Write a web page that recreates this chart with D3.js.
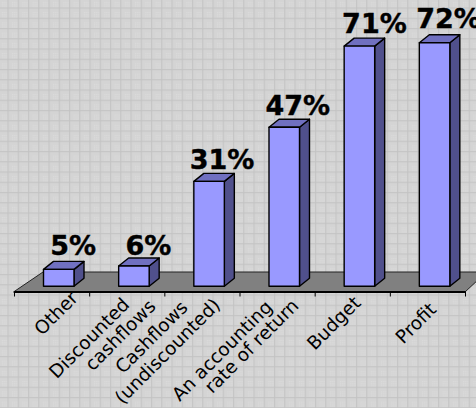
<!DOCTYPE html>
<html>
<head>
<meta charset="utf-8">
<script src="https://cdn.jsdelivr.net/npm/d3@7/dist/d3.min.js"></script>
<style>
html,body{margin:0;padding:0;background:#d6d6d6;overflow:hidden}
svg{display:block}
text{font-family:"DejaVu Sans",Verdana,sans-serif;fill:#000}
</style>
</head>
<body>
<svg id="chart" width="476" height="408"></svg>
<script>
const categories = ["Other", "Discounted cashflows", "Cashflows (undiscounted)", "An accounting rate of return", "Budget", "Profit"];
const categoryLines = [["Other"], ["Discounted", "cashflows"], ["Cashflows", "(undiscounted)"], ["An accounting", "rate of return"], ["Budget"], ["Profit"]];
const percentages = [5, 6, 31, 47, 71, 72];

const W = 476, H = 408;
const floorFrontY = 292, barBaseY = 286.3;
const barWidth = 30.5, barInset = 29.5;
const depthX = 10, depthY = 8;

const x = d3.scaleBand().domain(categories).range([14, 465]);
const y = d3.scaleLinear().domain([0, 72]).range([barBaseY, 42.7]);
const tickPos = d3.scaleLinear().domain([0, categories.length]).range([14, 465]);

// Per-line centres of the slanted axis captions, relative to the band start and axis
const captionOffsets = [
  [[42, 21]],
  [[0, 46], [31, 43]],
  [[-13, 45], [3, 59]],
  [[-17.5, 58.5], [12, 54]],
  [[19, 31]],
  [[26, 31]]
];
const valueDx = [14.5, 14.5, 13, 13.5, 15, 14];
const valueDy = [-14, -11, -12, -12, -13, -14.7];

const svg = d3.select("#chart");
const defs = svg.append("defs");

// Woven grey backdrop: a fine grid of soft lines with pale dots inside each cell
const cell = 10.25;
const tile = defs.append("pattern").attr("id", "weave")
  .attr("width", cell).attr("height", cell).attr("patternUnits", "userSpaceOnUse");
tile.append("rect").attr("width", cell).attr("height", cell).attr("fill", "#d4d4d4");
[2, 4, 6].forEach(i => [2, 4, 6].forEach(j => {
  tile.append("rect").attr("x", i).attr("y", j).attr("width", 1).attr("height", 1).attr("fill", "#dedede");
}));
tile.append("rect").attr("x", 7.6).attr("y", 0).attr("width", 1).attr("height", cell).attr("fill", "#c3c3c3");
tile.append("rect").attr("x", 0).attr("y", 7.6).attr("width", cell).attr("height", 1).attr("fill", "#c3c3c3");
svg.append("rect").attr("width", W).attr("height", H).attr("fill", "url(#weave)");

// Chart floor
const line = d3.line();
svg.append("path")
  .attr("d", line([[13.5, floorFrontY], [43, 272], [480, 272], [480, 278], [465, floorFrontY]]) + "Z")
  .attr("fill", "#808080").attr("stroke", "#222").attr("stroke-width", 1);

// Front edge of the floor with its tick marks
const axis = d3.axisBottom(tickPos).tickValues(d3.range(categories.length + 1)).tickFormat("").tickSize(5).tickSizeOuter(0);
const axisG = svg.append("g").attr("transform", `translate(0,${floorFrontY - 0.5})`).call(axis);
axisG.selectAll("path,line").attr("stroke", "#000").attr("stroke-width", 1);
axisG.select(".domain").attr("stroke-width", 2);

// 3D columns: side, top, front
const bars = svg.append("g").selectAll("g").data(percentages).join("g");
const left = (d, i) => x(categories[i]) + barInset;
const outline = s => s.attr("stroke", "#000").attr("stroke-width", 1.4).attr("stroke-linejoin", "round");

bars.append("path").attr("fill", "#50508c").call(outline)
  .attr("d", (d, i) => {
    const r = left(d, i) + barWidth, t = y(d);
    return line([[r, t], [r + depthX, t - depthY], [r + depthX, barBaseY - depthY], [r, barBaseY]]) + "Z";
  });
bars.append("path").attr("fill", "#7070c0").call(outline)
  .attr("d", (d, i) => {
    const l = left(d, i), t = y(d);
    return line([[l, t], [l + depthX, t - depthY], [l + barWidth + depthX, t - depthY], [l + barWidth, t]]) + "Z";
  });
bars.append("rect").attr("fill", "#9999ff").call(outline)
  .attr("x", (d, i) => left(d, i)).attr("y", d => y(d))
  .attr("width", barWidth).attr("height", d => barBaseY - y(d));

// Value labels above each column
svg.append("g").selectAll("text").data(percentages).join("text")
  .attr("x", (d, i) => left(d, i) + barWidth / 2 + valueDx[i])
  .attr("y", (d, i) => y(d) + valueDy[i])
  .attr("text-anchor", "middle")
  .attr("font-size", 27).attr("font-weight", "bold")
  .attr("stroke", "#000").attr("stroke-width", 0.4)
  .text(d => d + "%");

// Slanted category captions, one text per line
categoryLines.forEach((lines, i) => {
  lines.forEach((ln, k) => {
    const cx = x(categories[i]) + captionOffsets[i][k][0];
    const cy = floorFrontY + captionOffsets[i][k][1];
    svg.append("text")
      .attr("transform", `translate(${cx},${cy}) rotate(-45)`)
      .attr("text-anchor", "middle").attr("dy", "0.35em")
      .attr("font-size", 18.5)
      .text(ln);
  });
});
</script>
</body>
</html>
